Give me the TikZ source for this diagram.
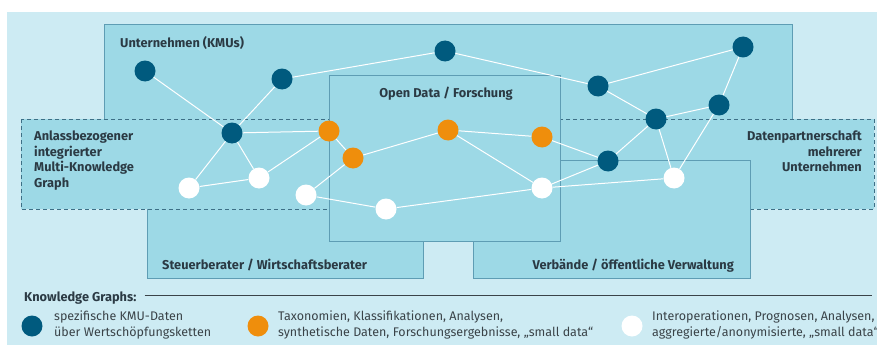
\documentclass[tikz,border=0pt]{standalone}
\usepackage{fontspec}
\setmainfont{Fira Sans}
\usepackage{xcolor}
\usepackage{tikz}
\usetikzlibrary{positioning}
\definecolor{bglight}{HTML}{CDEBF3}
\definecolor{boxfill}{HTML}{9DD9E6}
\definecolor{boxline}{HTML}{5E9DB4}
\definecolor{dashline}{HTML}{3D6F86}
\definecolor{kmublue}{HTML}{005A7E}
\definecolor{odorange}{HTML}{EF8E0C}
\definecolor{txtdark}{HTML}{2B3A44}
\definecolor{txtgray}{HTML}{3A4348}
\tikzstyle{area} = [fill=boxfill,draw=boxline,line width=0.9pt]
\tikzstyle{kg} = [circle,minimum size=21pt,inner sep=0pt]
\tikzstyle{kmu} = [kg,fill=kmublue]
\tikzstyle{tax} = [kg,fill=odorange]
\tikzstyle{agg} = [kg,fill=white]
\tikzstyle{link} = [white,line width=1pt]
\tikzstyle{arealabel} = [font=\bfseries\fontsize{12.8}{15.5}\selectfont,text=txtdark,inner sep=0pt]
\tikzstyle{legendtext} = [font=\fontsize{12.5}{15.5}\selectfont,text=txtgray,inner sep=0pt,align=left]

\begin{document}
\begin{tikzpicture}[x=1pt,y=-1pt]
	\useasboundingbox (0,0) rectangle (877,345);
	\fill[white] (0,0) rectangle (877,345);
	\fill[bglight] (7,12) rectangle (877,345);

	% Areas:
	% The order matters, the later ones lie on top
	\draw[area] (104,24) rectangle (792,150);
	\draw[area] (147,150) rectangle (423,278);
	\draw[area,draw=dashline,dash pattern=on 4pt off 3pt] (21,119) rectangle (874,209);
	\draw[area] (473,160) rectangle (750,278);
	\draw[area] (329,75) rectangle (560,241);

	\node[arealabel,anchor=base west] (kmulabel) at (120,48) {Unternehmen (KMUs)};
	\node[arealabel,anchor=base] (odlabel) at (446,97) {Open Data / Forschung};
	\node[arealabel,anchor=north west,align=left] (mkglabel) at (34,131) {Anlassbezogener\\integrierter\\Multi-Knowledge\\Graph};
	\node[arealabel,anchor=north east,align=right] (dplabel) at (862,131) {Datenpartnerschaft\\mehrerer\\Unternehmen};
	\node[arealabel,anchor=base west] (stlabel) at (162,269) {Steuerberater / Wirtschaftsberater};
	\node[arealabel,anchor=base east] (vblabel) at (734,269) {Verbände / öffentliche Verwaltung};

	% Knowledge graph nodes:
	\foreach \n/\x/\y in {k1/145/71,k2/282/79,k3/445/51,k4/598/86,k5/743/47,k6/719/105,k7/656/119,k8/232/133,k9/608/161}
	{
		\node[kmu] (\n) at (\x,\y) {};
	}
	\foreach \n/\x/\y in {t1/329/131,t2/353/158,t3/448/130,t4/542/137}
	{
		\node[tax] (\n) at (\x,\y) {};
	}
	\foreach \n/\x/\y in {a1/189/188,a2/259/178,a3/306/195,a4/386/209,a5/542/188,a6/674/178}
	{
		\node[agg] (\n) at (\x,\y) {};
	}

	% Links:
	\foreach \a/\b in {k1/k8,k2/k8,k2/k3,k3/k4,k4/k5,k4/k7,k7/k6,k6/k5,k7/k9,k7/a6,k6/a6,k9/a5,t4/k9,t3/t4,t3/a5,t2/t3,t1/t2,k8/t1,k8/a2,k8/a1,t1/a2,a1/a2,t2/a3,a3/a4,a4/a5,a5/a6}
	{
		\draw[link] (\a) -- (\b);
	}

	% Legend:
	\node[arealabel,anchor=base west] (legtitle) at (24,301) {Knowledge Graphs:};
	\coordinate (rulend) at (872,295);
	\draw[txtgray,line width=0.9pt] (legtitle.east |- rulend) ++(8,0) -- (rulend);

	\node[kmu] (legk) at (32,326) {};
	\node[legendtext,anchor=west] (legktext) at (54,325) {spezifische KMU-Daten\\über Wertschöpfungsketten};
	\node[tax] (legt) at (258,326) {};
	\node[legendtext,anchor=west] (legttext) at (278,325) {Taxonomien, Klassifikationen, Analysen,\\synthetische Daten, Forschungsergebnisse, „small data“};
	\node[agg] (lega) at (632,326) {};
	\node[legendtext,anchor=west] (legatext) at (652,325) {Interoperationen, Prognosen, Analysen,\\aggregierte/anonymisierte, „small data“};
\end{tikzpicture}
\end{document}
